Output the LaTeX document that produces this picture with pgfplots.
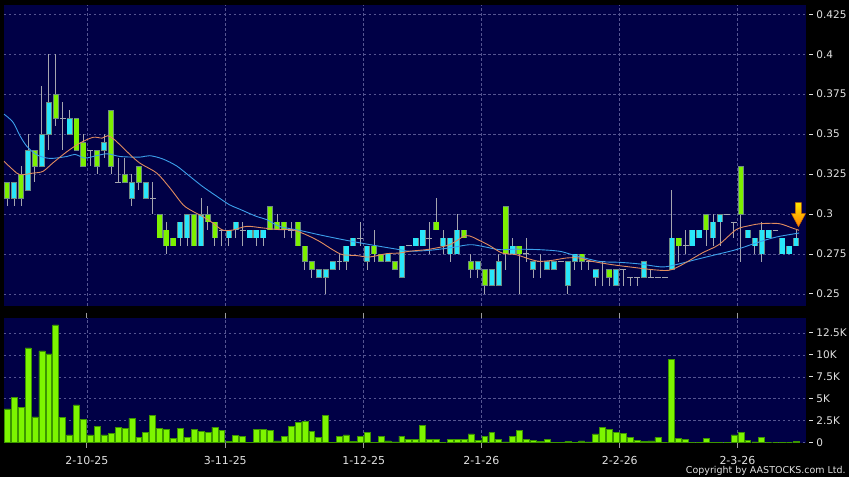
\documentclass[border=0pt]{standalone}
\usepackage{pgfplots}
\pgfplotsset{compat=1.18}
\usepackage{pgfplotstable}
\usepackage{fontspec}
\setmainfont{DejaVu Sans}
\definecolor{navybg}{RGB}{0,0,70}
\definecolor{gridc}{RGB}{85,85,145}
\definecolor{upg}{RGB}{125,240,0}
\definecolor{dnc}{RGB}{40,230,250}
\definecolor{edgec}{RGB}{110,140,130}
\definecolor{wickc}{RGB}{165,165,175}
\definecolor{maor}{RGB}{225,140,95}
\definecolor{mabl}{RGB}{60,160,235}
\definecolor{volg}{RGB}{125,245,0}
\definecolor{volline}{RGB}{60,150,0}
\definecolor{labc}{RGB}{225,225,225}

% i  body-top  body-bottom  high  low
\pgfplotstableread{
i bt bb hi lo
0 0.32 0.31 0.32 0.305
2 0.325 0.31 0.33 0.305
4 0.34 0.33 0.34 0.32
7 0.375 0.36 0.40 0.355
10 0.36 0.34 0.36 0.34
11 0.345 0.33 0.35 0.33
13 0.34 0.33 0.34 0.325
15 0.365 0.33 0.365 0.325
17 0.325 0.32 0.335 0.32
19 0.33 0.32 0.33 0.315
22 0.30 0.285 0.30 0.285
23 0.29 0.28 0.295 0.275
24 0.285 0.28 0.285 0.28
27 0.30 0.28 0.30 0.28
29 0.30 0.295 0.305 0.29
30 0.295 0.285 0.295 0.28
38 0.305 0.29 0.305 0.29
39 0.295 0.29 0.30 0.29
40 0.295 0.29 0.295 0.285
42 0.295 0.28 0.295 0.28
43 0.28 0.27 0.28 0.265
44 0.27 0.265 0.27 0.26
53 0.28 0.275 0.29 0.27
54 0.275 0.27 0.275 0.27
56 0.27 0.265 0.27 0.265
62 0.295 0.29 0.31 0.29
66 0.29 0.285 0.29 0.285
67 0.27 0.265 0.275 0.26
69 0.265 0.255 0.265 0.25
72 0.305 0.275 0.305 0.265
74 0.28 0.275 0.28 0.25
83 0.275 0.27 0.275 0.265
87 0.265 0.26 0.265 0.255
97 0.285 0.28 0.285 0.27
101 0.30 0.29 0.30 0.28
106 0.33 0.30 0.33 0.27
}\greentab

\pgfplotstableread{
i bt bb hi lo
1 0.32 0.31 0.32 0.305
3 0.34 0.315 0.35 0.315
5 0.35 0.33 0.38 0.33
6 0.37 0.35 0.40 0.34
9 0.36 0.35 0.365 0.35
14 0.345 0.34 0.35 0.335
18 0.32 0.31 0.325 0.305
20 0.32 0.31 0.32 0.31
25 0.295 0.285 0.295 0.28
26 0.30 0.285 0.30 0.28
28 0.30 0.28 0.31 0.28
32 0.29 0.285 0.29 0.28
33 0.295 0.29 0.295 0.285
35 0.29 0.285 0.29 0.285
36 0.29 0.285 0.29 0.28
37 0.29 0.285 0.29 0.28
45 0.265 0.26 0.265 0.26
46 0.265 0.26 0.265 0.25
47 0.27 0.265 0.27 0.265
49 0.28 0.27 0.28 0.265
50 0.285 0.28 0.285 0.28
52 0.28 0.27 0.28 0.265
55 0.275 0.27 0.275 0.27
57 0.28 0.26 0.28 0.26
59 0.285 0.28 0.285 0.28
60 0.29 0.28 0.29 0.28
63 0.285 0.28 0.29 0.275
64 0.285 0.275 0.285 0.27
65 0.29 0.275 0.30 0.275
68 0.27 0.265 0.27 0.26
70 0.265 0.255 0.265 0.255
71 0.27 0.255 0.275 0.255
73 0.28 0.275 0.285 0.275
76 0.27 0.265 0.27 0.26
78 0.27 0.265 0.27 0.265
79 0.27 0.265 0.27 0.265
81 0.27 0.255 0.27 0.25
82 0.275 0.27 0.275 0.265
85 0.265 0.26 0.265 0.255
88 0.265 0.255 0.265 0.255
92 0.27 0.26 0.27 0.26
96 0.285 0.265 0.315 0.265
99 0.29 0.28 0.29 0.28
100 0.29 0.285 0.29 0.285
102 0.295 0.285 0.30 0.28
103 0.30 0.295 0.30 0.28
107 0.29 0.285 0.29 0.285
108 0.285 0.28 0.285 0.275
109 0.29 0.275 0.295 0.27
110 0.29 0.285 0.29 0.285
112 0.285 0.275 0.285 0.275
113 0.28 0.275 0.28 0.275
114 0.285 0.28 0.29 0.28
}\cyantab

% dojis: i  level  high  low
\pgfplotstableread{
i lv hi lo
8 0.36 0.37 0.34
12 0.34 0.34 0.33
16 0.32 0.335 0.32
21 0.31 0.32 0.30
31 0.29 0.29 0.28
34 0.29 0.295 0.28
41 0.29 0.295 0.285
48 0.27 0.275 0.265
51 0.285 0.295 0.28
58 0.28 0.28 0.28
61 0.285 0.295 0.275
75 0.275 0.285 0.27
77 0.27 0.275 0.26
80 0.27 0.27 0.27
84 0.27 0.27 0.265
86 0.27 0.27 0.255
89 0.265 0.265 0.255
90 0.26 0.26 0.255
91 0.26 0.26 0.255
93 0.26 0.265 0.26
94 0.26 0.26 0.26
95 0.26 0.26 0.26
98 0.28 0.29 0.275
104 0.30 0.30 0.30
105 0.295 0.295 0.285
111 0.29 0.29 0.29
}\dojitab

% volume in thousands
\pgfplotstableread{
i v
0 3.86
1 5.15
2 4.05
3 10.8
4 2.95
5 10.45
6 10.1
7 13.4
8 2.84
9 0.9
10 4.3
11 2.62
12 0.9
13 1.9
14 0.9
15 1.06
16 1.78
17 1.6
18 2.77
19 0.6
20 1.2
21 3.07
22 1.6
23 1.48
24 0.45
25 1.6
26 0.65
27 1.5
28 1.33
29 1.17
30 1.78
31 1.44
32 0.15
33 0.83
34 0.68
35 0.08
36 1.55
37 1.5
38 1.4
39 0.2
40 0.72
41 1.82
42 2.27
43 2.42
44 1.29
45 0.57
46 3.07
47 0.08
48 0.68
49 0.9
50 0.15
51 0.72
52 1.14
53 0.08
54 0.68
55 0.2
56 0.1
57 0.76
58 0.42
59 0.38
60 1.97
61 0.42
62 0.34
63 0.0
64 0.34
65 0.38
66 0.34
67 1.0
68 0.27
69 0.72
70 1.14
71 0.42
72 0.1
73 0.76
74 1.4
75 0.42
76 0.3
77 0.15
78 0.34
79 0.08
80 0.08
81 0.15
82 0.08
83 0.2
84 0.1
85 1.0
86 1.7
87 1.48
88 1.2
89 1.06
90 0.57
91 0.3
92 0.15
93 0.2
94 0.57
95 0.0
96 9.5
97 0.5
98 0.34
99 0.0
100 0.08
101 0.5
102 0.05
103 0.0
104 0.0
105 0.9
106 1.14
107 0.27
108 0.1
109 0.57
110 0.0
111 0.0
112 0.08
113 0.0
114 0.15
}\voltab

\pgfplotsset{
  candlebar/.style 2 args={draw=none, mark=none, forget plot,
    error bars/.cd, y dir=both, y explicit, error mark=none,
    error bar style={draw=#1, line width=#2, solid}},
  chartbase/.style={
    scale only axis, width=803bp,
    xmin=-0.476, xmax=115.4,
    axis background/.style={fill=navybg},
    axis line style={draw=none},
    xtick={11.5,31.5,51.5,68.5,88.5,105.5},
    yticklabel pos=right,
    grid=major,
    major grid style={draw=gridc, dash pattern=on 2.5bp off 2.5bp, line width=0.6bp},
    ytick style={draw=none},
    yticklabel style={text=labc, font=\fontsize{10.5bp}{12bp}\selectfont, anchor=west},
  },
}
\newcommand{\tk}[1]{\rule[3.4bp]{4bp}{0.9bp}\hspace{3bp}#1}

\begin{document}
\begin{tikzpicture}
\fill[black] (0,0) rectangle (850bp,478bp);

% price panel
\begin{axis}[chartbase,
  at={(4bp,172bp)}, anchor=south west, height=301bp,
  ymin=0.2427, ymax=0.4308,
  xticklabels={},
  xtick style={draw=none},
  ytick={0.25,0.275,0.3,0.325,0.35,0.375,0.4,0.425},
  yticklabels={\tk{0.25},\tk{0.275},\tk{0.3},\tk{0.325},\tk{0.35},\tk{0.375},\tk{0.4},\tk{0.425}},
]
% wicks
\addplot[candlebar={wickc}{1bp}] table[x=i, y expr={(\thisrow{hi}+\thisrow{lo})/2}, y error expr={(\thisrow{hi}-\thisrow{lo})/2}] {\greentab};
\addplot[candlebar={wickc}{1bp}] table[x=i, y expr={(\thisrow{hi}+\thisrow{lo})/2}, y error expr={(\thisrow{hi}-\thisrow{lo})/2}] {\cyantab};
\addplot[candlebar={wickc}{1bp}] table[x=i, y expr={(\thisrow{hi}+\thisrow{lo})/2}, y error expr={(\thisrow{hi}-\thisrow{lo})/2}] {\dojitab};
% doji bars
\addplot[draw=none, mark=none, forget plot,
  error bars/.cd, x dir=both, x explicit, error mark=none,
  error bar style={draw=wickc, line width=1bp, solid}]
  table[x=i, y=lv, x error expr={0.43}] {\dojitab};
% body outlines
\addplot[candlebar={edgec}{6bp}] table[x=i, y expr={(\thisrow{bt}+\thisrow{bb})/2}, y error expr={(\thisrow{bt}-\thisrow{bb})/2+0.0003}] {\greentab};
\addplot[candlebar={edgec}{6bp}] table[x=i, y expr={(\thisrow{bt}+\thisrow{bb})/2}, y error expr={(\thisrow{bt}-\thisrow{bb})/2+0.0003}] {\cyantab};
% body fills
\addplot[candlebar={upg}{4.3bp}] table[x=i, y expr={(\thisrow{bt}+\thisrow{bb})/2}, y error expr={(\thisrow{bt}-\thisrow{bb})/2-0.0003}] {\greentab};
\addplot[candlebar={dnc}{4.3bp}] table[x=i, y expr={(\thisrow{bt}+\thisrow{bb})/2}, y error expr={(\thisrow{bt}-\thisrow{bb})/2-0.0003}] {\cyantab};

% moving averages
\addplot[mabl, line width=0.9bp, smooth, mark=none] coordinates {
(-0.48,0.3625) (0.82,0.3575) (1.83,0.349) (2.84,0.3423) (4.29,0.337) (6.16,0.3348)
(8.61,0.336) (9.77,0.3373) (11.2,0.335) (12.4,0.336) (14.4,0.3377) (16.3,0.336)
(19.1,0.3356) (20.6,0.3365) (22.5,0.3344) (24.5,0.33) (26.4,0.3235) (28.2,0.3173)
(30.3,0.311) (32.1,0.3058) (33.6,0.303) (36.0,0.2985) (37.5,0.2965) (39.3,0.2923)
(42.2,0.2898) (45.1,0.287) (48.0,0.2844) (50.9,0.282) (53.8,0.2798) (56.7,0.2777)
(58.1,0.2767) (61.0,0.2773) (63.9,0.2788) (66.8,0.2808) (68.6,0.2798) (71.1,0.2777)
(73.5,0.278) (76.9,0.2777) (79.8,0.2767) (81.6,0.2746) (85.5,0.2704) (88.4,0.2698)
(91.3,0.2688) (94.6,0.2669) (96.6,0.2683) (99.5,0.2715) (102.4,0.2746) (105.3,0.2777)
(108.2,0.2819) (111.1,0.2856) (114.4,0.2881)
};
\addplot[maor, line width=0.9bp, smooth, mark=none] coordinates {
(-0.48,0.333) (0.82,0.3277) (1.83,0.3246) (3.71,0.3256) (5.15,0.3267) (6.59,0.332)
(8.61,0.339) (10.5,0.3444) (12.4,0.348) (13.7,0.3475) (14.5,0.349) (15.5,0.3465)
(17.3,0.339) (19.1,0.332) (21.6,0.3256) (23.5,0.3163) (25.4,0.3058) (26.8,0.3017)
(28.2,0.2985) (29.7,0.2944) (31.1,0.290) (32.6,0.290) (34.6,0.2923) (36.9,0.2913)
(39.4,0.2902) (41.2,0.2902) (43.2,0.287) (45.1,0.2829) (47.0,0.2777) (48.4,0.2746)
(50.5,0.274) (52.3,0.2731) (54.8,0.2752) (56.7,0.2756) (58.1,0.2767) (61.0,0.278)
(63.9,0.2808) (66.3,0.2865) (68.2,0.2835) (69.7,0.2802) (71.5,0.2756) (73.5,0.2746)
(75.4,0.2719) (76.9,0.2704) (78.7,0.271) (80.8,0.2725) (82.6,0.2725) (84.5,0.2704)
(87.4,0.2683) (90.3,0.2667) (93.2,0.2652) (95.6,0.2648) (97.5,0.2683) (100.4,0.2756)
(102.8,0.2808) (105.3,0.2902) (107.2,0.2927) (109.0,0.294) (111.5,0.294) (113.4,0.2913)
(114.4,0.2898)
};
\end{axis}

% volume panel
\begin{axis}[chartbase,
  at={(4bp,34.7bp)}, anchor=south west, height=125.3bp,
  ymin=0, ymax=14.24,
  xticklabels={2-10-25,3-11-25,1-12-25,2-1-26,2-2-26,2-3-26},
  xticklabel style={text=labc, font=\fontsize{11bp}{13bp}\selectfont, yshift=-5bp},
  xtick style={draw=labc!70!black, line width=0.8bp},
  xtick align=outside, major tick length=5bp,
  ytick={0,2.5,5,7.5,10,12.5},
  yticklabels={\tk{0},\tk{2.5K},\tk{5K},\tk{7.5K},\tk{10K},\tk{12.5K}},
]
\addplot[ybar, bar width=0.85, fill=volg, draw=volline, line width=0.6bp] table[x=i, y=v] {\voltab};
\end{axis}

% marker arrow at the last bar
\draw[draw=orange!80!black, line width=0.5bp, top color=yellow!80!orange, bottom color=orange]
  (796.5bp,275bp) -- (802.5bp,275bp) -- (802.5bp,264bp) -- (806.5bp,264bp) -- (799.5bp,251bp)
  -- (792.5bp,264bp) -- (796.5bp,264bp) -- cycle;

\node[anchor=east, inner sep=0pt, text=labc, font=\fontsize{9.5bp}{11bp}\selectfont] at (847bp,7bp) {Copyright by AASTOCKS.com Ltd.};
\end{tikzpicture}
\end{document}
